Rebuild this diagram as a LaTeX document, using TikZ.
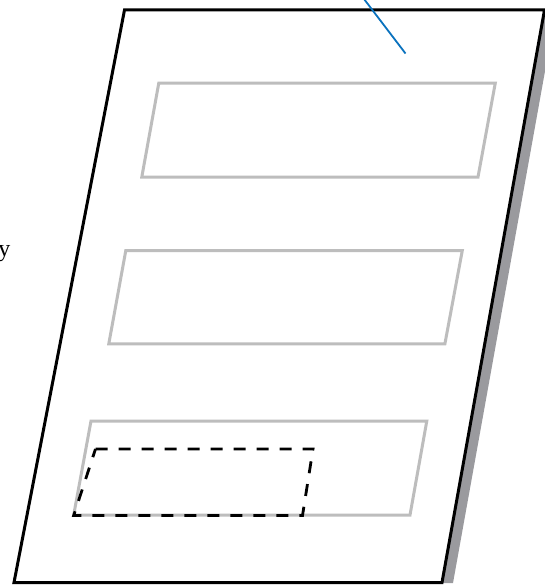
\documentclass[tikz,border=0pt]{standalone}
\usepackage{fontspec}
\setmainfont{Liberation Serif}
\begin{document}
\begin{tikzpicture}[x=1pt,y=-1pt,
  pageline/.style={line width=3pt,draw=black,fill=white,line join=miter},
  shadowfill/.style={fill=shadowgray,draw=none},
  field/.style={line width=3pt,draw=fieldgray,line join=miter},
  dashfield/.style={line width=2.8pt,draw=black,dash pattern=on 12pt off 11pt,line join=miter},
  leader/.style={line width=1.8pt,draw=leaderblue}]
\definecolor{shadowgray}{HTML}{9A9A9E}
\definecolor{fieldgray}{HTML}{BDBDBD}
\definecolor{leaderblue}{HTML}{0A72BE}
\useasboundingbox (0,0) rectangle (545,586);
\begin{scope}
\clip (0,0) rectangle (545,586);
% shadow
\fill[shadowfill] (135.5,10) -- (556,10) -- (453,583) -- (25,583) -- cycle;
% page
\coordinate (ptl) at (124.5,10);
\coordinate (ptr) at (544.5,10);
\coordinate (pbr) at (442,582.5);
\coordinate (pbl) at (14,582.5);
\draw[pageline] (ptl) -- (ptr) -- (pbr) -- (pbl) -- cycle;
\end{scope}
% fields
\draw[field] (158.8,83) -- (495.3,83) -- (478,177) -- (141.8,177) -- cycle;
\draw[field] (125.8,250.5) -- (462.3,250.5) -- (444.9,343.8) -- (108.8,343.8) -- cycle;
\draw[field] (91,421) -- (426.8,421) -- (410,515) -- (73.7,515) -- cycle;
% dashed selection
\draw[dashfield] (95.5,449) -- (313,449) -- (302.5,515.5) -- (73.7,515.5) -- cycle;
% leader line
\coordinate (lstart) at (364,-1);
\coordinate (lend) at (405.5,53.5);
\draw[leader] (lstart) -- (lend);
% clipped label
\node[anchor=base east,inner sep=0pt,font=\fontsize{24}{28}\selectfont] (lbl) at (10.5,256) {y};
\end{tikzpicture}
\end{document}
